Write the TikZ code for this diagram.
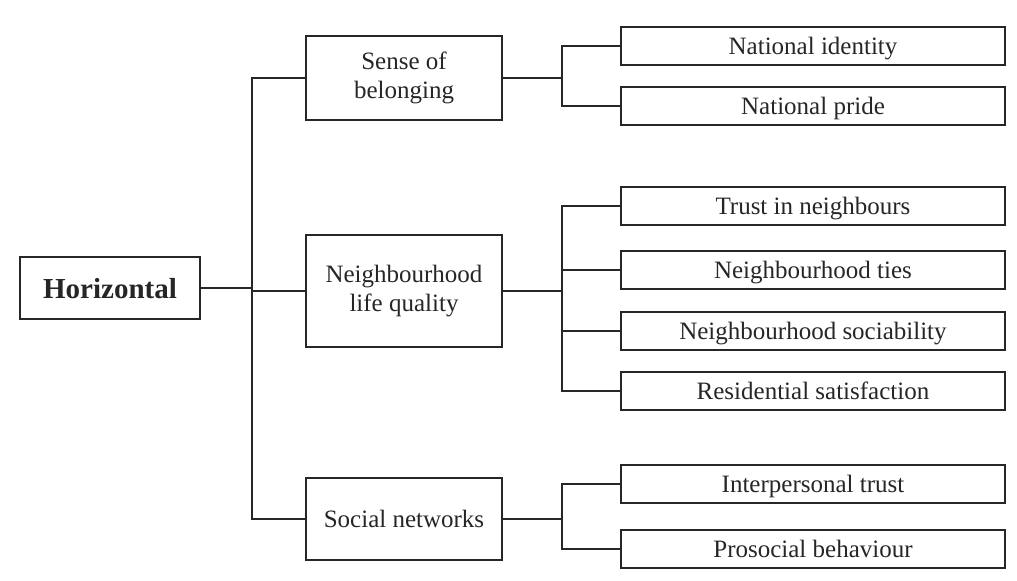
\documentclass[tikz,border=0pt]{standalone}
\usepackage{fontspec}
\setmainfont{Liberation Serif}
\usetikzlibrary{positioning}

\begin{document}
\begin{tikzpicture}[x=0.5pt,y=-0.5pt,line width=1pt,
  box/.style={draw=black!85,rectangle,inner sep=0pt,align=center,
    font=\fontsize{12.5}{14.5}\selectfont,text=black!85},
  mid/.style={box,minimum width=98pt},
  leaf/.style={box,minimum width=192pt,minimum height=19pt,text height=9pt,text depth=0pt}]
\useasboundingbox (0,0) rectangle (1017,581);
% root
\node[box,minimum width=90pt,minimum height=31pt,text height=10.5pt,text depth=0pt,
  font=\fontsize{14.5}{16}\selectfont\bfseries] (hor) at (110,288) {Horizontal};
% middle level
\node[mid,minimum height=42pt] (sob) at (404,78) {Sense of\\belonging};
\node[mid,minimum height=56pt] (nlq) at (404,291) {Neighbourhood\\life quality};
\node[mid,minimum height=41pt,text height=9pt,text depth=0pt] (soc) at (404,519) {Social networks};
% leaves
\node[leaf] (nid) at (813,46) {National identity};
\node[leaf] (npr) at (813,106) {National pride};
\node[leaf] (tru) at (813,206) {Trust in neighbours};
\node[leaf] (tie) at (813,270) {Neighbourhood ties};
\node[leaf] (nso) at (813,331) {Neighbourhood sociability};
\node[leaf] (res) at (813,391) {Residential satisfaction};
\node[leaf] (ipt) at (813,484) {Interpersonal trust};
\node[leaf] (pro) at (813,549) {Prosocial behaviour};
% connectors
\coordinate (jl) at (252,291);
\draw[black!85] (hor.east) -- (hor.east -| jl);
\draw[black!85] (sob.west) -| (jl) |- (soc.west);
\draw[black!85] (jl) -- (nlq.west);
\foreach \p/\c in {sob/nid,sob/npr,nlq/tru,nlq/tie,nlq/nso,nlq/res,soc/ipt,soc/pro}
  \draw[black!85] (\p.east) -- ++(59,0) |- (\c.west);
\end{tikzpicture}
\end{document}
